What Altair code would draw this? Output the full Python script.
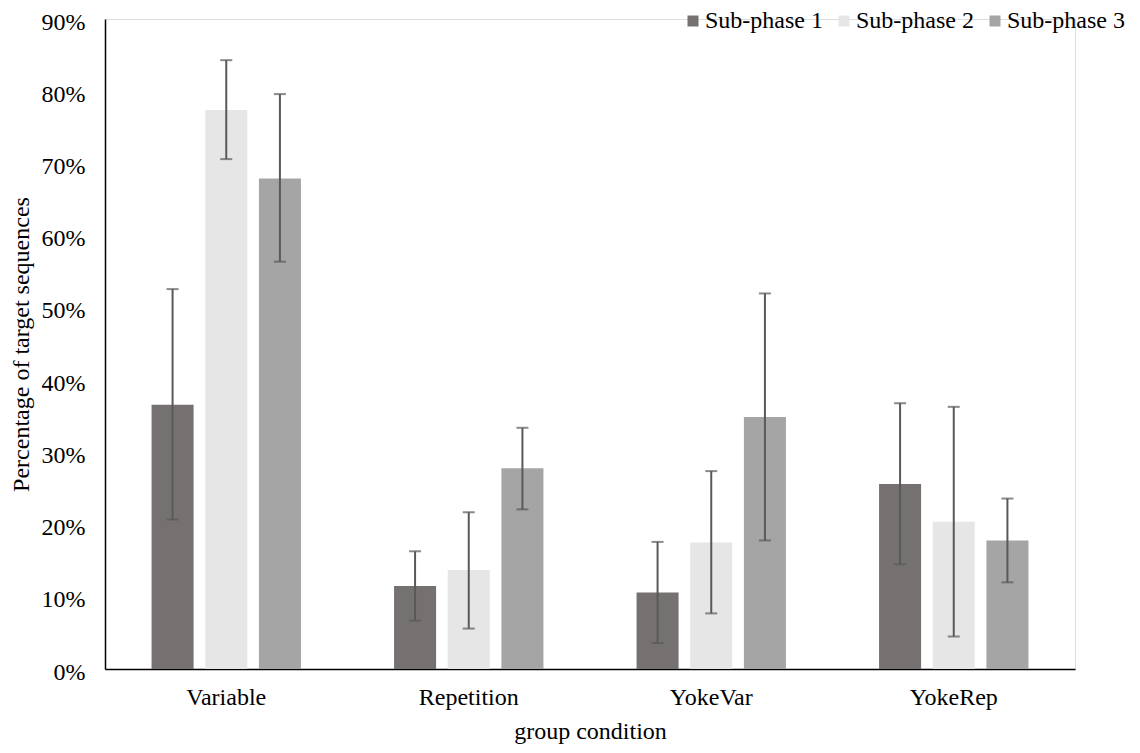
import altair as alt
import pandas as pd

groups = ["Variable", "Repetition", "YokeVar", "YokeRep"]
phases = ["Sub-phase 1", "Sub-phase 2", "Sub-phase 3"]
colors = ["#767171", "#E7E6E6", "#A5A5A5"]

# values in percent, per group: [Sub-phase 1, Sub-phase 2, Sub-phase 3]
means = {
    "Variable":   [36.6, 77.4, 67.9],
    "Repetition": [11.5, 13.7, 27.8],
    "YokeVar":    [10.6, 17.5, 34.9],
    "YokeRep":    [25.6, 20.4, 17.8],
}
err_low = {
    "Variable":   [20.7, 70.6, 56.4],
    "Repetition": [6.7, 5.6, 22.1],
    "YokeVar":    [3.6, 7.7, 17.8],
    "YokeRep":    [14.5, 4.5, 12.0],
}
err_high = {
    "Variable":   [52.6, 84.3, 79.6],
    "Repetition": [16.3, 21.7, 33.4],
    "YokeVar":    [17.6, 27.4, 52.0],
    "YokeRep":    [36.8, 36.3, 23.6],
}
y_ticks = [0, 0.1, 0.2, 0.3, 0.4, 0.5, 0.6, 0.7, 0.8, 0.9]

rows = []
for g in groups:
    for i, p in enumerate(phases):
        rows.append({
            "group": g, "phase": p,
            "value": means[g][i] / 100,
            "lo": err_low[g][i] / 100,
            "hi": err_high[g][i] / 100,
        })
df = pd.DataFrame(rows)

FONT = "Liberation Serif"
PAD_TOP = 11

x_enc = alt.X("group:N", sort=groups, title="group condition",
              scale=alt.Scale(paddingInner=0.384, paddingOuter=0.192),
              axis=alt.Axis(labelAngle=0, ticks=False, domainColor="#000000",
                            domainWidth=1.5, labelPadding=16, titlePadding=10,
                            labelFontSize=24, titleFontSize=24, labelColor="#000",
                            titleColor="#000", titleFontWeight="normal",
                            labelFont=FONT, titleFont=FONT))
xo_enc = alt.XOffset("phase:N", sort=phases,
                     scale=alt.Scale(paddingInner=0.217, paddingOuter=0))

bars = alt.Chart(df).mark_bar().encode(
    x=x_enc,
    xOffset=xo_enc,
    y=alt.Y("value:Q", title="Percentage of target sequences",
            scale=alt.Scale(domain=[0, 0.9], nice=False),
            axis=alt.Axis(format=".0%", values=y_ticks, ticks=False, grid=False,
                          domainColor="#000000", domainWidth=1.5, labelPadding=20,
                          labelOffset=3, titlePadding=8, labelFontSize=24,
                          titleFontSize=24, labelColor="#000", titleColor="#000",
                          titleFontWeight="normal", labelFont=FONT, titleFont=FONT)),
    color=alt.Color("phase:N", sort=phases,
                    scale=alt.Scale(domain=phases, range=colors),
                    legend=alt.Legend(title=None, orient="none", direction="horizontal",
                                      legendX=576, legendY=-PAD_TOP + 1, padding=0,
                                      symbolType="square",
                                      symbolSize=121, symbolStrokeWidth=0,
                                      labelFontSize=24, labelFont=FONT,
                                      labelColor="#000", columnPadding=9,
                                      labelOffset=0)),
)

err_rule = alt.Chart(df).mark_rule(color="#595959", strokeWidth=2).encode(
    x=alt.X("group:N", sort=groups),
    xOffset=xo_enc,
    y="lo:Q",
    y2="hi:Q",
)
cap_lo = alt.Chart(df).mark_tick(color="#595959", thickness=2, size=12).encode(
    x=alt.X("group:N", sort=groups),
    xOffset=xo_enc,
    y="lo:Q",
)
cap_hi = alt.Chart(df).mark_tick(color="#595959", thickness=2, size=12).encode(
    x=alt.X("group:N", sort=groups),
    xOffset=xo_enc,
    y="hi:Q",
)

chart = alt.layer(bars, err_rule, cap_lo, cap_hi).properties(
    width=970, height=650,
    padding={"left": 97, "top": PAD_TOP, "right": 57, "bottom": 737 - PAD_TOP - 650},
    autosize=alt.AutoSizeParams(type="none"),
).configure_view(stroke=None).configure(background="white")

chart.save("out.html", embed_options={"renderer": "svg", "actions": False})
